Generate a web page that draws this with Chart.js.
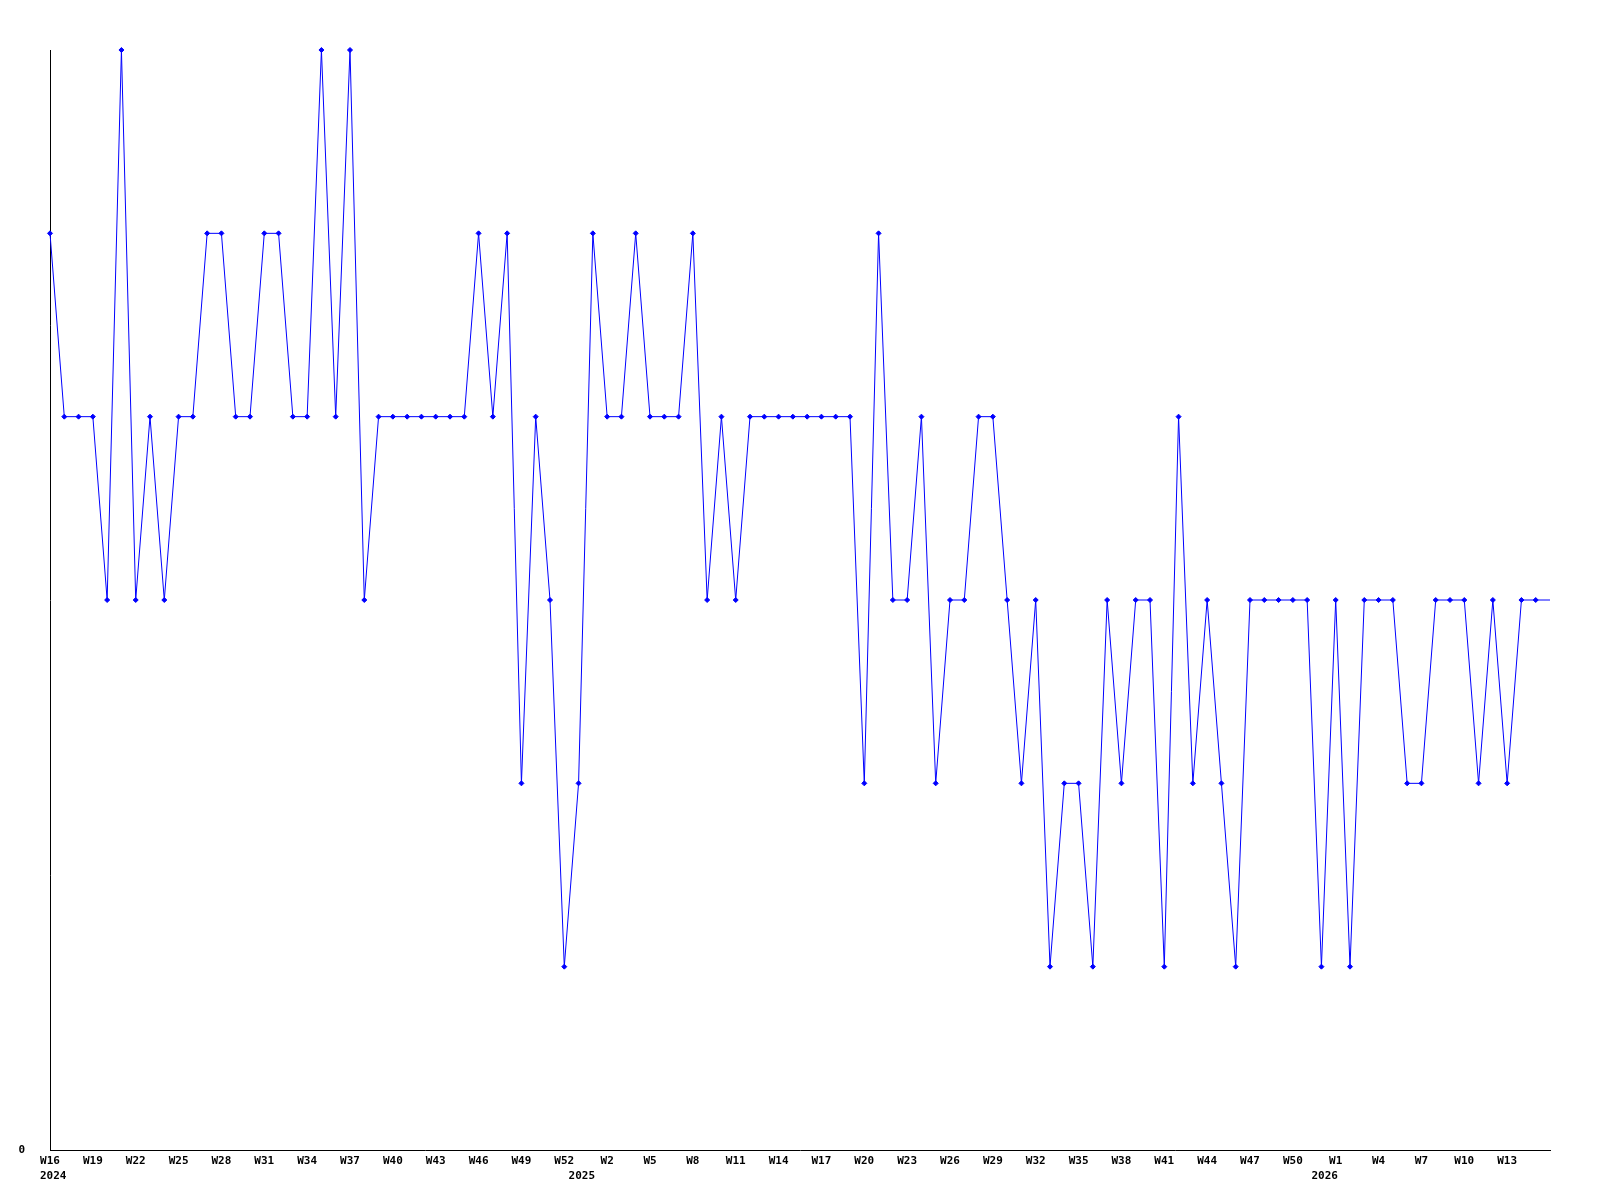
<!DOCTYPE html>
<html>
<head>
<meta charset="utf-8">
<title>Weekly chart</title>
<script src="https://cdn.jsdelivr.net/npm/chart.js@4.4.1/dist/chart.umd.min.js"></script>
<style>
    html, body { margin: 0; padding: 0; background: #fff; }
    canvas { display: block; }
</style>
</head>
<body>
<canvas id="chart" width="1600" height="1200"></canvas>
<script>
// Weeks on the x axis (one point per week)
const categories = [
    '2024-W16', '2024-W17', '2024-W18', '2024-W19', '2024-W20', '2024-W21', '2024-W22', '2024-W23',
    '2024-W24', '2024-W25', '2024-W26', '2024-W27', '2024-W28', '2024-W29', '2024-W30', '2024-W31',
    '2024-W32', '2024-W33', '2024-W34', '2024-W35', '2024-W36', '2024-W37', '2024-W38', '2024-W39',
    '2024-W40', '2024-W41', '2024-W42', '2024-W43', '2024-W44', '2024-W45', '2024-W46', '2024-W47',
    '2024-W48', '2024-W49', '2024-W50', '2024-W51', '2024-W52', '2024-W53',
    '2025-W1', '2025-W2', '2025-W3', '2025-W4', '2025-W5', '2025-W6', '2025-W7', '2025-W8',
    '2025-W9', '2025-W10', '2025-W11', '2025-W12', '2025-W13', '2025-W14', '2025-W15', '2025-W16',
    '2025-W17', '2025-W18', '2025-W19', '2025-W20', '2025-W21', '2025-W22', '2025-W23', '2025-W24',
    '2025-W25', '2025-W26', '2025-W27', '2025-W28', '2025-W29', '2025-W30', '2025-W31', '2025-W32',
    '2025-W33', '2025-W34', '2025-W35', '2025-W36', '2025-W37', '2025-W38', '2025-W39', '2025-W40',
    '2025-W41', '2025-W42', '2025-W43', '2025-W44', '2025-W45', '2025-W46', '2025-W47', '2025-W48',
    '2025-W49', '2025-W50', '2025-W51', '2025-W52',
    '2026-W1', '2026-W2', '2026-W3', '2026-W4', '2026-W5', '2026-W6', '2026-W7', '2026-W8',
    '2026-W9', '2026-W10', '2026-W11', '2026-W12', '2026-W13', '2026-W14', '2026-W15', '2026-W16'
];

// Weekly values
const values = [
    5, 4, 4, 4, 3, 6, 3, 4, 3, 4, 4, 5, 5, 4, 4, 5, 5, 4, 4,
    6, 4, 6, 3, 4, 4, 4, 4, 4, 4, 4, 5, 4, 5, 2, 4, 3, 1,
    2, 5, 4, 4, 5, 4, 4, 4, 5, 3, 4, 3, 4, 4, 4, 4, 4, 4, 4, 4,
    2, 5, 3, 3, 4, 2, 3, 3, 4, 4, 3, 2, 3, 1, 2, 2,
    1, 3, 2, 3, 3, 1, 4, 2, 3, 2, 1, 3, 3, 3, 3, 3, 1, 3, 1,
    3, 3, 3, 2, 2, 3, 3, 3, 2, 3, 2, 3, 3, 3
];

// Tick labels
const weekTickStep = 3;
const yearTickIndex = [0, 37, 89];
const yearTickText = ['2024', '2025', '2026'];
const yTickText = ['0'];

const tickFont = { family: '"DejaVu Sans Mono", "Liberation Mono", monospace', size: 11, weight: 'bold', lineHeight: 1.2 };

const ctx = document.getElementById('chart').getContext('2d');
new Chart(ctx, {
    type: 'line',
    data: {
        labels: categories,
        datasets: [{
            data: values,
            borderColor: '#0000ff',
            backgroundColor: '#0000ff',
            borderWidth: 1,
            tension: 0,
            fill: false,
            clip: false,
            pointStyle: 'rectRot',
            pointRadius: (c) => c.dataIndex === values.length - 1 ? 0 : 2.5,
            pointBorderWidth: 1
        }]
    },
    options: {
        responsive: false,
        animation: false,
        layout: { padding: { top: 50, right: 50, left: 0, bottom: 0 } },
        plugins: { legend: { display: false }, tooltip: { enabled: false } },
        scales: {
            x: {
                type: 'category',
                position: 'bottom',
                weight: 0,
                offset: false,
                grid: { display: false, drawTicks: false },
                border: { display: true, color: '#000', width: 1 },
                ticks: {
                    autoSkip: false,
                    maxRotation: 0,
                    padding: 5,
                    color: '#000',
                    font: tickFont,
                    callback: function (val, i) {
                        if (i % weekTickStep !== 0 || i === categories.length - 1) return null;
                        return categories[i].split('-')[1];
                    }
                },
                afterFit: (scale) => { scale.height = 18; }
            },
            xYear: {
                type: 'category',
                position: 'bottom',
                weight: 1,
                offset: false,
                grid: { display: false, drawTicks: false },
                border: { display: false },
                ticks: {
                    autoSkip: false,
                    maxRotation: 0,
                    padding: 2,
                    align: 'start',
                    labelOffset: -10,
                    color: '#000',
                    font: tickFont,
                    callback: function (val, i) {
                        const k = yearTickIndex.indexOf(i);
                        return k === -1 ? null : yearTickText[k];
                    }
                },
                afterFit: (scale) => { scale.height = 32; }
            },
            y: {
                min: 0,
                max: 6,
                grid: { display: false, drawTicks: false },
                border: { display: true, color: '#000', width: 1 },
                ticks: {
                    stepSize: 1,
                    padding: 25,
                    color: '#000',
                    font: tickFont,
                    callback: (v) => v === 0 ? yTickText[0] : null
                },
                afterFit: (scale) => { scale.width = 50; }
            }
        }
    }
});
</script>
</body>
</html>
